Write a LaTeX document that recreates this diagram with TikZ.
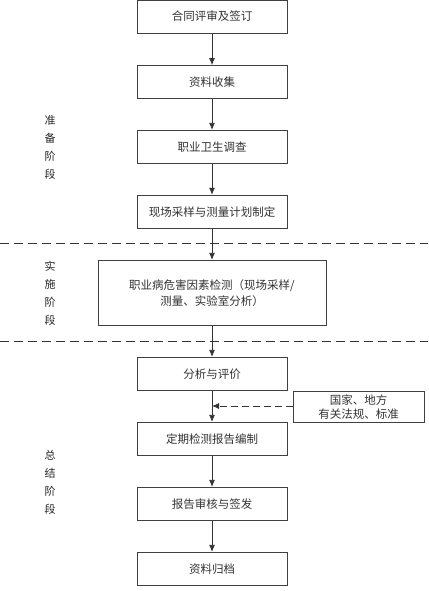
\documentclass[tikz,border=0pt]{standalone}
\usepackage{fontspec}
\setmainfont{Noto Sans CJK SC}
\usetikzlibrary{arrows.meta,positioning}
\tikzset{
      stepbox/.style={
        draw=black!75,
        line width=0.8pt,
        fill=white,
        minimum width=150pt,
        minimum height=33pt,
        align=center,
        inner sep=4pt,
        font=\fontsize{11.5}{16}\selectfont,
        text=black!80
      },
      phaselabel/.style={
        align=center,
        font=\fontsize{11}{18}\selectfont,
        text=black!85
      },
      flow/.style={-{Latex[length=7pt,width=6pt]}, line width=0.8pt, draw=black!80},
      phaseline/.style={line width=0.8pt, draw=black!80, dash pattern=on 9pt off 5pt}
    }

\begin{document}
\begin{tikzpicture}[x=1pt,y=-1pt]
    \useasboundingbox (0,0) rectangle (428,591);
    \node[stepbox] (s1) at (212,16.5) {合同评审及签订};
    \node[stepbox] (s2) at (212,82) {资料收集};
    \node[stepbox] (s3) at (212,146.8) {职业卫生调查};
    \node[stepbox] (s4) at (212,211.7) {现场采样与测量计划制定};
    \node[stepbox, minimum width=228pt, minimum height=65pt] (s5) at (212,292.8) {职业病危害因素检测（现场采样/\\测量、实验室分析）};
    \node[stepbox] (s6) at (212,373.8) {分析与评价};
    \node[stepbox] (s7) at (212,438.8) {定期检测报告编制};
    \node[stepbox] (s8) at (212,503.8) {报告审核与签发};
    \node[stepbox] (s9) at (212,568.8) {资料归档};
    \node[stepbox, minimum width=131pt, minimum height=31.7pt, inner sep=2pt, font=\fontsize{11.5}{14}\selectfont] (law) at (358.5,406.8) {国家、地方\\有关法规、标准};
    \coordinate (join) at (212,406);
    % phase separators
    \draw[phaseline] (0,243.3) -- (428,243.3);
    \draw[phaseline] (0,341.7) -- (428,341.7);
    % phase labels
    \node[phaselabel] (p1) at (50,147.5) {准\\备\\阶\\段};
    \node[phaselabel] (p2) at (50,293.5) {实\\施\\阶\\段};
    \node[phaselabel] (p3) at (50,482.5) {总\\结\\阶\\段};
    % main flow
    \foreach \a/\b in {s1/s2,s2/s3,s3/s4,s4/s5,s5/s6,s6/s7,s7/s8,s8/s9}
      \draw[flow] (\a.south) -- (\b.north);
    \draw[flow, dash pattern=on 7pt off 4pt] (law.west |- join) -- (join);
    \end{tikzpicture}
\end{document}
